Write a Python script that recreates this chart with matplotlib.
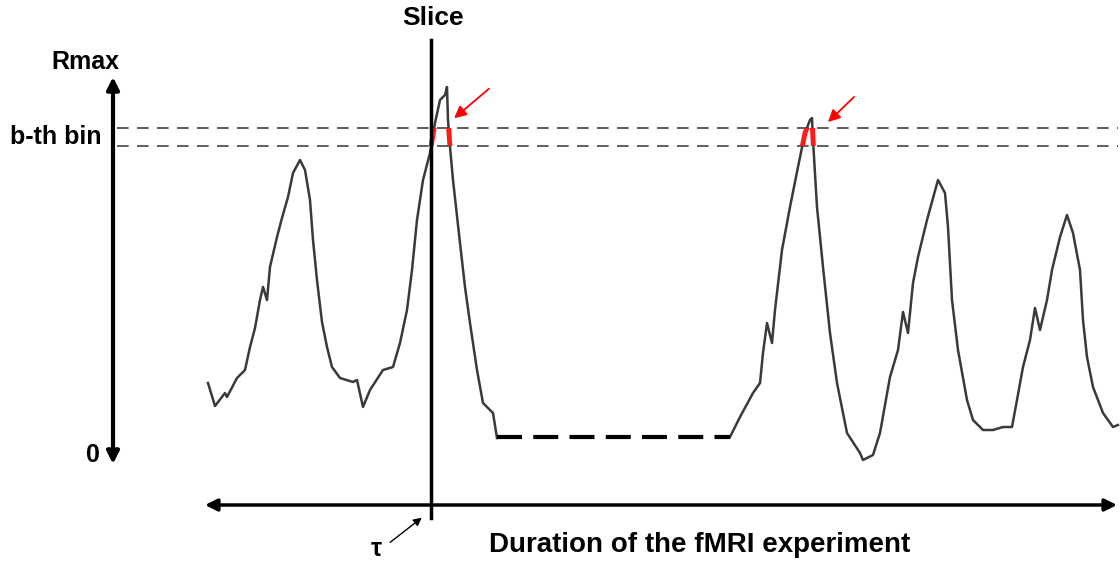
import matplotlib
matplotlib.use("Agg")
import matplotlib.pyplot as plt
from matplotlib.patches import Rectangle

plt.rcParams["font.family"] = ["Liberation Sans", "DejaVu Sans"]

# signal trace (x = time position, y = level, screen-like, downwards)
seg1_x = [208, 215, 225, 227, 237, 245, 250, 255, 260, 263, 267, 270, 277, 282, 288, 293,
          300, 305, 310, 313, 317, 322, 327, 332, 340, 353, 357, 363, 370, 383, 393, 400,
          407, 412, 417, 423, 430, 435, 440, 445, 447, 448, 450, 453, 460, 465, 470, 477,
          483, 493, 497]
seg1_y = [383, 406, 393, 397, 378, 370, 347, 328, 300, 287, 300, 267, 237, 218, 197, 173,
          160, 170, 200, 240, 280, 322, 347, 367, 378, 382, 380, 407, 390, 370, 367, 343,
          310, 270, 220, 180, 153, 123, 100, 95, 87, 120, 147, 180, 243, 287, 323, 370,
          403, 413, 438]

seg2_x = [730, 740, 753, 760, 763, 767, 772, 775, 782, 790, 798, 805, 810, 812, 813, 817,
          823, 830, 837, 847, 860, 863, 873, 880, 890, 898, 903, 908, 913, 918, 927, 938,
          945, 948, 952, 958, 967, 973, 983, 993, 1003, 1012, 1017, 1023, 1030, 1035, 1040,
          1047, 1052, 1060, 1067, 1073, 1080, 1083, 1087, 1093, 1103, 1113, 1118]
seg2_y = [437, 417, 393, 383, 353, 323, 343, 310, 250, 207, 167, 133, 120, 118, 140, 207,
          267, 333, 383, 433, 453, 460, 455, 433, 377, 350, 312, 333, 283, 257, 220, 180,
          193, 227, 300, 350, 400, 420, 430, 430, 427, 427, 400, 367, 340, 308, 330,
          300, 270, 237, 215, 233, 270, 320, 357, 387, 413, 427, 425]

gap_x = [497, 730]
gap_y = [437, 437]

bin_lo, bin_hi = 128, 146
slice_x = 431
axis_x = 113

fig = plt.figure(figsize=(11.2, 5.62), dpi=100)
ax = fig.add_axes([0, 0, 1, 1])
ax.set_xlim(0, 1120)
ax.set_ylim(562, 0)
ax.axis("off")

# b-th bin dashed limits
for yb in (bin_lo, bin_hi):
    ax.plot([axis_x + 4, 1118], [yb, yb], color="#444444", lw=1.2, dashes=(7, 5))

# trace
line_kw = dict(color="#3a3a3a", lw=1.8, solid_joinstyle="round")
ax.plot(seg1_x, seg1_y, **line_kw)
ax.plot(seg2_x, seg2_y, **line_kw)
ax.plot(gap_x, gap_y, color="black", lw=3, dashes=(6, 2.7))

# red part of trace inside the bin
clip = Rectangle((0, bin_lo), 1120, bin_hi - bin_lo, transform=ax.transData)
for xs, ys in ((seg1_x, seg1_y), (seg2_x, seg2_y)):
    red, = ax.plot(xs, ys, color="#ff1a1a", lw=3.5)
    red.set_clip_path(clip)

# red arrows
ax.annotate("", xy=(452, 120), xytext=(491, 87),
            arrowprops=dict(arrowstyle="-|>", color="red", lw=1.3, mutation_scale=18))
ax.annotate("", xy=(826, 124), xytext=(856, 95),
            arrowprops=dict(arrowstyle="-|>", color="red", lw=1.3, mutation_scale=18))

# slice line
ax.plot([slice_x, slice_x], [40, 518], color="black", lw=2.5)
ax.text(slice_x + 2, 18, "Slice", ha="center", va="center", fontsize=19, fontweight="bold")

# vertical axis arrow
ax.annotate("", xy=(axis_x, 77), xytext=(axis_x, 464),
            arrowprops=dict(arrowstyle="<|-|>", color="black", lw=3, mutation_scale=18,
                            shrinkA=0, shrinkB=0))
ax.text(85, 62, "Rmax", ha="center", va="center", fontsize=18, fontweight="bold")
ax.text(93, 455, "0", ha="center", va="center", fontsize=18, fontweight="bold")
ax.text(101, 137, "b-th bin", ha="right", va="center", fontsize=18, fontweight="bold")

# horizontal time arrow
ax.annotate("", xy=(1117, 505), xytext=(205, 505),
            arrowprops=dict(arrowstyle="<|-|>", color="black", lw=2.5, mutation_scale=18,
                            shrinkA=0, shrinkB=0))
ax.text(700, 545, "Duration of the fMRI experiment", ha="center", va="center",
        fontsize=20, fontweight="bold")

# tau marker
ax.annotate("", xy=(424, 516), xytext=(388, 544),
            arrowprops=dict(arrowstyle="-|>", color="black", lw=1, mutation_scale=12))
ax.text(376, 549, "τ", ha="center", va="center", fontsize=18, fontweight="bold")

fig.savefig("out.png", dpi=100)
